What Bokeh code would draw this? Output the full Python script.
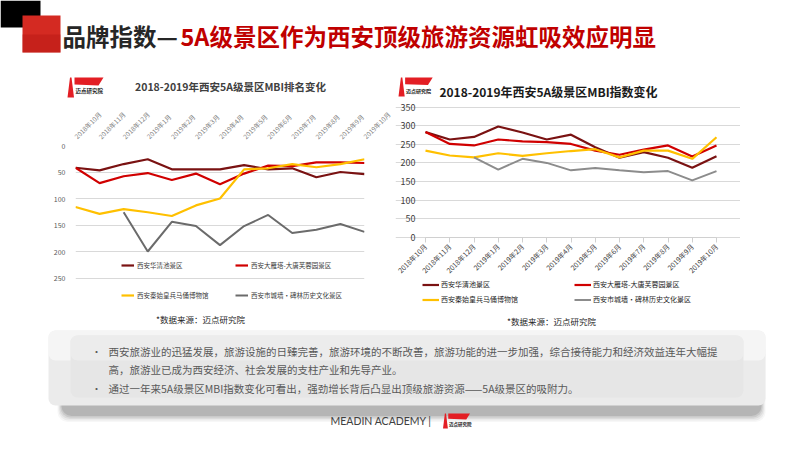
import numpy as np
from bokeh.plotting import figure
from bokeh.models import Range1d, FixedTicker, Legend, LegendItem, Spacer
from bokeh.layouts import column, row
from bokeh.embed import file_html
from bokeh.resources import INLINE
from bokeh.core.properties import value

FONT = "Noto Sans CJK SC"

# ---------------- data ----------------
months = ["2018年10月", "2018年11月", "2018年12月", "2019年1月", "2019年2月", "2019年3月",
          "2019年4月", "2019年5月", "2019年6月", "2019年7月", "2019年8月", "2019年9月", "2019年10月"]
series_names = ["西安华清池景区", "西安大雁塔-大唐芙蓉园景区", "西安秦始皇兵马俑博物馆", "西安市城墙·碑林历史文化景区"]

# MBI ranking (left chart, inverted axis)
rank_huaqingchi = [42, 47, 35, 26, 45, 45, 45, 37, 45, 43, 60, 50, 54]
rank_dayanta = [42, 71, 58, 52, 65, 53, 73, 53, 38, 39, 32, 32, 33]
rank_bingmayong = [116, 129, 120, 126, 133, 113, 100, 45, 43, 35, 41, 35, 26]
rank_chengqiang = [None, None, 126, 200, 144, 152, 188, 152, 131, 165, 159, 148, 163]
rank_ticks = [0, 50, 100, 150, 200, 250]
rank_axis_max = 300

# MBI index (right chart)
mbi_huaqingchi = [283, 263, 270, 298, 282, 263, 276, 242, 214, 229, 214, 187, 218]
mbi_dayanta = [283, 251, 247, 263, 258, 256, 251, 233, 222, 236, 247, 217, 247]
mbi_bingmayong = [233, 220, 215, 226, 219, 226, 232, 237, 215, 233, 233, 211, 269]
mbi_chengqiang = [None, None, 215, 182, 211, 200, 180, 186, 180, 175, 178, 153, 178]
mbi_ticks = [0, 50, 100, 150, 200, 250, 300, 350]

title_dark = "品牌指数—"
title_red = "5A级景区作为西安顶级旅游资源虹吸效应明显"
left_title = "2018-2019年西安5A级景区MBI排名变化"
right_title = "2018-2019年西安5A级景区MBI指数变化"
source_text = "*数据来源：迈点研究院"
body_lines = ["西安旅游业的迅猛发展，旅游设施的日臻完善，旅游环境的不断改善，旅游功能的进一步加强，综合接待能力和经济效益连年大幅提",
              "高，旅游业已成为西安经济、社会发展的支柱产业和先导产业。",
              "通过一年来5A级景区MBI指数变化可看出，强劲增长背后凸显出顶级旅游资源——5A级景区的吸附力。"]
footer_text = "MEADIN ACADEMY |"
logo_text = "迈点研究院"

colors = ["#7a1212", "#d00000", "#ffc000", "#7f7f7f"]


def arr(v):
    return np.array(v, dtype=float)


def canvas(width, height, x0, x1, y0, y1):
    p = figure(width=width, height=height, x_range=Range1d(x0, x1), y_range=Range1d(y1, y0),
               output_backend="svg", toolbar_location=None, x_axis_type=None, y_axis_type=None,
               min_border=0, min_border_left=0, min_border_right=0, min_border_top=0,
               min_border_bottom=0, outline_line_color=None, title=None, frame_align=False)
    p.grid.visible = False
    return p


def logo(p, x, y, s, fs):
    p.patch([x, x + 2.5 * s, x + 4 * s, x + 6.5 * s], [y + 20 * s, y, y, y + 20 * s],
            fill_color="#e31e24", line_color=None)
    p.patch([x + 7 * s, x + 36 * s, x + 31 * s, x + 7 * s], [y, y, y + 8 * s, y + 7 * s],
            fill_color="#e31e24", line_color=None)
    p.text([x + 8 * s], [y + 13.5 * s], text=[logo_text], text_font=value(FONT), text_font_style="bold",
           text_font_size=fs, text_color="#222222", text_baseline="middle", text_align="left")


# ---------------- header (page y 0..102) ----------------
hdr = canvas(800, 102, 0, 800, 0, 102)
hdr.quad(left=[0], right=[40], top=[0], bottom=[27], fill_color="#000000", line_color=None)
hdr.quad(left=[22], right=[60], top=[15], bottom=[52], fill_color="#d42a22", line_color=None)
hdr.quad(left=[22], right=[60], top=[34], bottom=[52], fill_color="#b81814", line_color=None, fill_alpha=0.5)
hdr.text([62], [35], text=[title_dark], text_font=value(FONT), text_font_style="bold",
         text_font_size="23.5px", text_color="#262626", text_baseline="middle", text_align="left")
hdr.text([180], [35], text=[title_red], text_font=value(FONT), text_font_style="bold",
         text_font_size="23.5px", text_color="#c00000", text_baseline="middle", text_align="left")
logo(hdr, 67, 77, 1.0, "5.5px")
logo(hdr, 398, 77, 0.95, "5px")
hdr.text([230], [86], text=[left_title], text_font=value(FONT), text_font_style="bold",
         text_font_size="10.5px", text_color="#404040", text_baseline="middle", text_align="center")
hdr.text([548], [91], text=[right_title], text_font=value(FONT), text_font_style="bold",
         text_font_size="12px", text_color="#1a1a1a", text_baseline="middle", text_align="center")

# ---------------- charts (page y 102..310) ----------------
xs = list(range(len(months)))
label_map = {i: m for i, m in enumerate(months)}


def style_chart(p, yticks, ylab_size, ylab_color, xlab_size, xlab_color):
    p.xaxis.ticker = FixedTicker(ticks=xs)
    p.xaxis.major_label_overrides = label_map
    p.xaxis.major_label_orientation = np.pi / 4
    p.xaxis.major_label_text_font = FONT
    p.xaxis.major_label_text_font_size = xlab_size
    p.xaxis.major_label_text_color = xlab_color
    p.xaxis.minor_tick_line_color = None
    p.yaxis.ticker = FixedTicker(ticks=yticks)
    p.yaxis.major_label_text_font = FONT
    p.yaxis.major_label_text_font_size = ylab_size
    p.yaxis.major_label_text_color = ylab_color
    p.yaxis.axis_line_color = None
    p.yaxis.major_tick_line_color = None
    p.yaxis.minor_tick_line_color = None
    p.yaxis.major_label_standoff = 4
    p.xgrid.visible = False
    p.ygrid.ticker = FixedTicker(ticks=yticks)
    p.ygrid.grid_line_color = "#d9d9d9"
    p.ygrid.grid_line_width = 1


left = figure(width=345, height=208, x_range=Range1d(0, len(months) - 1),
              y_range=Range1d(rank_axis_max, 0), x_axis_location="above",
              output_backend="svg", toolbar_location=None, title=None, frame_align=False,
              min_border_left=20, min_border_right=31, min_border_top=39, min_border_bottom=6,
              outline_line_color=None)
style_chart(left, rank_ticks, "7px", "#595959", "6.5px", "#808080")
left.xaxis.axis_line_color = None
left.xaxis.major_tick_line_color = None
left.xaxis.major_label_standoff = 2

rl = []
for vals, c in zip([rank_huaqingchi, rank_dayanta, rank_bingmayong, rank_chengqiang], colors):
    lw = 2.2 if c != "#7f7f7f" else 2.0
    rl.append(left.line(xs, arr(vals), line_color=("#6b6b6b" if c == "#7f7f7f" else c), line_width=lw))
lleg = Legend(items=[LegendItem(label=n, renderers=[r]) for n, r in zip(series_names, rl)],
              location=(46, 4), orientation="horizontal", ncols=2, spacing=20,
              label_width=78, label_height=8, glyph_height=8, glyph_width=13, label_standoff=3,
              padding=0, margin=0, border_line_color=None, background_fill_alpha=0,
              label_text_font=FONT, label_text_font_size="6.5px", label_text_color="#404040")
left.add_layout(lleg, "center")

# right chart: the frame fills the whole figure (345 x 208 px); both axes are pinned at 0
# plot area inside it: 30 px from the left, 24 px from the right, 4.7 px from the top, 73.3 px from the bottom
n_last = len(months) - 1
x_per_px = n_last / (345 - 30 - 24)
y_per_px = max(mbi_ticks) / (208 - 4.7 - 73.3)
right = figure(width=345, height=208,
               x_range=Range1d(-30 * x_per_px, n_last + 24 * x_per_px),
               y_range=Range1d(-73.3 * y_per_px, max(mbi_ticks) + 4.7 * y_per_px),
               output_backend="svg", toolbar_location=None, title=None, frame_align=False,
               min_border=0, min_border_left=0, min_border_right=0, min_border_top=0,
               min_border_bottom=0, outline_line_color=None)
style_chart(right, mbi_ticks, "9px", "#404040", "7px", "#404040")
right.xaxis.fixed_location = 0
right.yaxis.fixed_location = 0
right.ygrid.bounds = (0, n_last)
right.xaxis.bounds = (0, n_last)
right.xaxis.axis_line_color = "#d0d0d0"
right.xaxis.major_tick_line_color = "#d0d0d0"
right.xaxis.major_tick_in = 0
right.xaxis.major_tick_out = 5
right.xaxis.major_label_standoff = 3

rr = []
for vals, c in zip([mbi_huaqingchi, mbi_dayanta, mbi_bingmayong, mbi_chengqiang], colors):
    lw = 2.2 if c != "#7f7f7f" else 2.0
    rr.append(right.line(xs, arr(vals), line_color=("#8c8c8c" if c == "#7f7f7f" else c), line_width=lw))
rleg = Legend(items=[LegendItem(label=n, renderers=[r]) for n, r in zip(series_names, rr)],
              location=(27, 6), orientation="horizontal", ncols=2, spacing=5,
              label_width=128, label_height=9, glyph_height=9, glyph_width=17, label_standoff=2,
              padding=0, margin=0, border_line_color=None, background_fill_alpha=0,
              label_text_font=FONT, label_text_font_size="7px", label_text_color="#262626")
right.add_layout(rleg, "center")

# ---------------- bottom (page y 310..450) ----------------
bot = canvas(800, 140, 0, 800, 310, 450)
bot.text([200, 551], [318, 320], text=[source_text, source_text], text_font=value(FONT),
         text_font_size="8.5px", text_color="#262626", text_baseline="middle", text_align="center")
for i, a in enumerate([0.04, 0.06, 0.08, 0.10, 0.13]):
    d = 5 - i
    bot.quad(left=[62 - d], right=[760 + d], top=[340], bottom=[414 + d * 1.5],
             fill_color="#303030", fill_alpha=a, line_color=None, border_radius=10)
bot.quad(left=[48], right=[765], top=[330], bottom=[405], fill_color="#ebebeb",
         line_color=None, border_radius=7)
bot.quad(left=[48], right=[765], top=[330], bottom=[360], fill_color="#f7f7f7",
         line_color=None, border_radius=7, fill_alpha=0.8)
bot.quad(left=[70], right=[743], top=[335], bottom=[397], fill_color="#e6e6e6",
         line_color=None, border_radius=7)
bot.quad(left=[70], right=[743], top=[335], bottom=[360], fill_color="#eeeeee",
         line_color=None, border_radius=7, fill_alpha=0.8)
bot.text([96, 96], [351, 388], text=["•", "•"], text_font=value(FONT), text_font_size="10px",
         text_color="#595959", text_baseline="middle", text_align="center")
bot.text([108, 108, 108], [351, 369, 388], text=body_lines, text_font=value(FONT),
         text_font_size="10.5px", text_color="#595959", text_baseline="middle", text_align="left")
bot.text([330], [420], text=[footer_text], text_font=value("Lato"), text_font_size="10.5px",
         text_color="#404040", text_baseline="middle", text_align="left")
logo(bot, 442.5, 413, 0.75, "4.5px")

layout = column(hdr, row(Spacer(width=50, height=208), left, right, spacing=0), bot, spacing=0)

open("out.html", "w").write(file_html(layout, INLINE))
